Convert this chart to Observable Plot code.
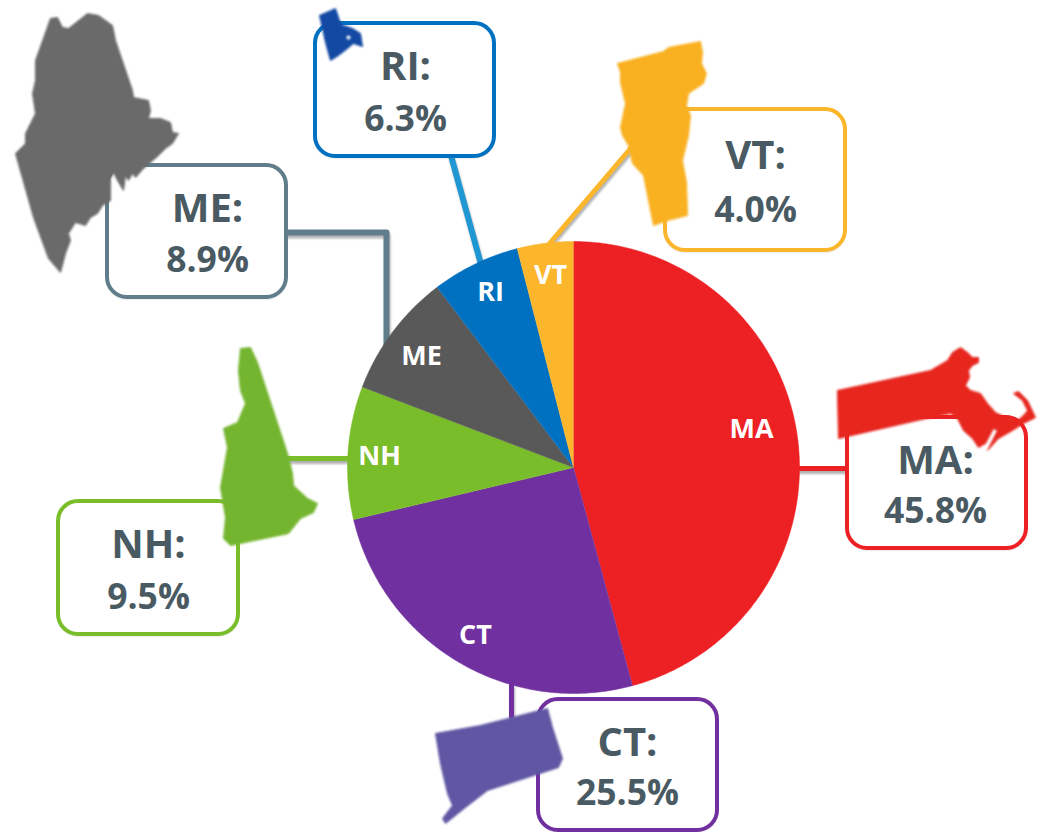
<!DOCTYPE html>
<html>
<head>
<meta charset="utf-8">
<script src="https://cdn.jsdelivr.net/npm/d3@7"></script>
<script src="https://cdn.jsdelivr.net/npm/@observablehq/plot@0.6"></script>
<style>
html,body{margin:0;padding:0;background:#fff}
#chart svg{display:block;background:#fff}
g[aria-description="silhouette"]{filter:blur(.8px)}
g[aria-description="leader shadow"]{filter:blur(1.2px)}
g[aria-description="box shadow"]{filter:blur(1.2px)}
</style>
</head>
<body>
<div id="chart"></div>
<script>
// Values
const states = ["MA","CT","NH","ME","RI","VT"];
const shares = [45.8,25.5,9.5,8.9,6.3,4.0];

// Styling
const sliceColors = ["#ed2024","#70309f","#7abd2a","#595959","#0070c0","#fbb62c"];
const boxColors = ["#ed2024","#70309f","#7abd2a","#607d8b","#0070c0","#fbb62c"];
const leaderColors = ["#ed2024","#70309f","#7abd2a","#607d8b","#1f97d3","#fbb62c"];
const shapeColors = ["#e7261e","#5f57a3","#74b52f","#6a6a6a","#1349a3","#f9b122"];

// Layout (picture space, 1040 x 832)
const pieCenter = [573,467], pieRadius = 226;
const boxes = {
  MA:[847,417,1026,548], CT:[538,699,717,830], NH:[58,501,238,634],
  ME:[107,165,286,297], RI:[315,23,494,156], VT:[665,109,845,250]
};
const boxTextCenters = {MA:935,CT:627,NH:148,ME:207,RI:405,VT:755};
const sliceLabels = {MA:[751,429],CT:[475,635],NH:[379,456],ME:[421,356],RI:[490,292],VT:[550,275]};
const leaders = {
  MA:[[798,468],[847,468]],
  CT:[[511,685],[511,716]],
  NH:[[285,458],[352,458]],
  ME:[[286,232],[386,232],[386,345]],
  RI:[[451,157],[480,262]],
  VT:[[630,148],[549,243]]
};
const leaderWidths = {MA:5,CT:5,NH:5,ME:6,RI:6,VT:5};

// Traced state outlines
const outlines = {
  ME:[[50,18],[57,17],[62,27],[68,28],[87,13],[98,15],[112,25],[115,40],[132,90],[133,97],[148,100],[150,110],[148,118],[160,118],[170,122],[172,132],[178,133],[172,143],[165,148],[158,155],[150,162],[143,168],[135,177],[132,173],[128,180],[125,175],[123,190],[117,180],[113,172],[110,178],[110,200],[102,205],[97,213],[90,217],[85,225],[75,222],[68,233],[70,240],[65,253],[60,272],[48,258],[33,217],[15,153],[25,143],[25,133],[35,113],[32,93],[35,80],[35,60]],
  RI:[[319,15],[335,8],[340,23],[343,25],[352,28],[360,33],[362,46],[353,43],[347,48],[338,55],[330,60],[325,42],[322,28]],
  VT:[[617,63],[663,51],[668,47],[700,41],[702,52],[701,63],[706,73],[703,83],[688,93],[686,105],[690,115],[688,135],[682,160],[686,182],[687,215],[667,220],[653,225],[643,175],[632,163],[628,145],[622,135],[620,127],[625,103],[620,82],[620,72]],
  MA:[[837,390],[930,370],[947,360],[952,352],[960,347],[967,352],[972,357],[978,357],[978,362],[972,365],[968,370],[969,377],[965,385],[970,390],[980,393],[987,403],[995,412],[1005,417],[1017,420],[1023,415],[1027,410],[1022,400],[1013,393],[1018,391],[1027,400],[1035,417],[1023,423],[1012,430],[998,438],[987,450],[997,430],[993,428],[985,443],[978,447],[972,438],[963,430],[957,418],[950,413],[930,417],[838,438]],
  NH:[[240,348],[250,347],[257,362],[287,453],[292,473],[293,485],[307,498],[317,503],[313,512],[300,518],[288,533],[230,545],[223,538],[225,517],[220,487],[227,447],[223,428],[237,422],[245,403],[240,390],[238,370]],
  CT:[[435,733],[480,725],[547,708],[552,727],[562,758],[558,767],[487,790],[465,807],[445,823],[442,818],[452,805],[447,793],[440,763]]
};
const riNotch = [[348,37]];

// Build tidy tables from the arrays
const total = d3.sum(shares);
let running = 0;
const wedges = states.flatMap((state,i) => {
  const a0 = running/total*2*Math.PI;
  running += shares[i];
  const a1 = running/total*2*Math.PI;
  const n = Math.ceil((a1-a0)/0.01);
  const pts = [{state,x:pieCenter[0],y:pieCenter[1]}];
  for (let k=0;k<=n;k++){
    const a = a0+(a1-a0)*k/n;
    pts.push({state,x:pieCenter[0]+pieRadius*Math.sin(a),y:pieCenter[1]-pieRadius*Math.cos(a)});
  }
  return pts;
});
const boxRows = states.map((state,i)=>({
  state, x1:boxes[state][0], y1:boxes[state][1], x2:boxes[state][2], y2:boxes[state][3],
  share:shares[i], color:boxColors[i]
}));
const leaderRows = states.flatMap((state)=>leaders[state].map(p=>({state,x:p[0],y:p[1]})));
const outlineRows = states.flatMap((state)=>outlines[state].map(p=>({state,x:p[0],y:p[1]})));
const sliceColor = Object.fromEntries(states.map((s,i)=>[s,sliceColors[i]]));
const shapeColor = Object.fromEntries(states.map((s,i)=>[s,shapeColors[i]]));
const ink = "#4a5a63";
const font = "'Open Sans', sans-serif";

const leaderMarks = states.map((s,i)=>Plot.line(leaderRows.filter(d=>d.state===s),{
  x:"x",y:"y",stroke:leaderColors[i],strokeWidth:leaderWidths[s],strokeLinejoin:"round",ariaDescription:"leader"
}));
const leaderShadows = states.map(s=>Plot.line(leaderRows.filter(d=>d.state===s),{
  x:"x",y:"y",stroke:"#000",strokeOpacity:.3,strokeWidth:leaderWidths[s],dy:3,dx:1,ariaDescription:"leader shadow"
}));

const plot = Plot.plot({
  width:1040,height:832,margin:0,
  style:{background:"#fff",overflow:"visible"},
  x:{domain:[0,1040],range:[0,1040],axis:null},
  y:{domain:[0,832],range:[0,832],axis:null},
  marks:[
    ...leaderShadows,
    ...leaderMarks,
    Plot.rect(boxRows,{x1:"x1",y1:"y1",x2:"x2",y2:"y2",fill:"#000",fillOpacity:.2,rx:20,ry:20,dy:2,ariaDescription:"box shadow"}),
    Plot.rect(boxRows,{x1:"x1",y1:"y1",x2:"x2",y2:"y2",fill:"#fff",stroke:"color",strokeWidth:4,rx:20,ry:20,ariaDescription:"callout"}),
    ...states.map(s=>Plot.line(wedges.filter(d=>d.state===s),{x:"x",y:"y",fill:sliceColor[s],stroke:sliceColor[s],strokeWidth:.5,ariaDescription:"slice"})),
    Plot.text(states,{
      x:s=>sliceLabels[s][0],y:s=>sliceLabels[s][1],text:s=>s,fill:"#fff",
      fontFamily:font,fontWeight:700,fontSize:27,textAnchor:"middle",lineAnchor:"middle",ariaDescription:"slice label"
    }),
    Plot.text(boxRows,{
      x:d=>boxTextCenters[d.state],y:d=>d.y1+(d.y2-d.y1)*.33,text:d=>d.state+":",fill:ink,
      fontFamily:font,fontWeight:700,fontSize:40,textAnchor:"middle",lineAnchor:"middle",ariaDescription:"callout state"
    }),
    Plot.text(boxRows,{
      x:d=>boxTextCenters[d.state],y:d=>d.y1+(d.y2-d.y1)*.72,text:d=>d.share.toFixed(1)+"%",fill:ink,
      fontFamily:font,fontWeight:700,fontSize:35.5,textAnchor:"middle",lineAnchor:"middle",ariaDescription:"callout share"
    }),
    ...states.map(s=>Plot.line(outlineRows.filter(d=>d.state===s).concat(outlineRows.find(d=>d.state===s)),{
      x:"x",y:"y",fill:shapeColor[s],stroke:shapeColor[s],strokeWidth:1,ariaDescription:"silhouette"
    })),
    Plot.dot(riNotch,{x:d=>d[0],y:d=>d[1],r:2,fill:"#fff",ariaDescription:"silhouette"})
  ]
});
document.getElementById("chart").append(plot);
</script>
</body>
</html>
